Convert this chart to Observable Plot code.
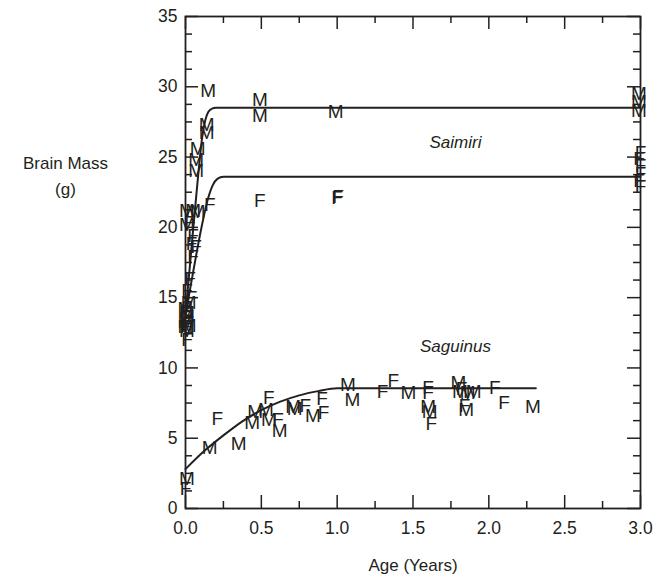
<!DOCTYPE html>
<html><head><meta charset="utf-8">
<script src="https://cdn.jsdelivr.net/npm/d3@7"></script>
<script src="https://cdn.jsdelivr.net/npm/@observablehq/plot@0.6"></script>
<style>html,body{margin:0;padding:0;background:#fff}</style>
</head><body><div id="chart"></div>
<script>
// ---- data (age in years, brain mass in g) ----
const saimiriMales = [[0.15,29.7],[0.14,27.3],[0.14,26.7],[0.08,25.6],[0.07,24.8],[0.07,24.0],[0.01,21.2],[0.05,21.2],[0.08,21.1],[0.01,20.2],[0.02,14.6],[0.0,14.2],[0.01,13.9],[0.01,13.5],[0.0,13.3],[0.02,13.0],[0.0,12.9],[0.01,12.6],[0.49,29.1],[0.49,27.95],[0.99,28.2],[2.99,29.5],[2.99,28.9],[2.99,28.3]];
const saimiriFemales = [[0.16,21.6],[0.03,20.3],[0.05,19.4],[0.04,18.8],[0.07,18.6],[0.05,17.9],[0.03,16.3],[0.01,15.5],[0.04,15.0],[0.01,14.3],[0.0,14.0],[0.02,13.6],[0.01,13.1],[0.0,12.9],[0.01,12.0],[0.49,21.9],[1.0,22.1],[1.005,22.2],[3.0,25.3],[2.99,24.9],[3.0,24.4],[3.0,23.8],[2.99,23.3],[3.0,22.9]];
const saguinusMales = [[0.01,2.1],[0.16,4.3],[0.35,4.6],[0.44,6.1],[0.46,6.9],[0.53,7.0],[0.55,6.3],[0.62,5.5],[0.71,7.2],[0.72,7.1],[0.84,6.6],[1.07,8.8],[1.10,7.75],[1.47,8.2],[1.60,7.2],[1.61,6.9],[1.80,8.9],[1.81,8.3],[1.86,8.2],[1.90,8.3],[1.85,7.0],[2.29,7.2]];
const saguinusFemales = [[0.0,1.4],[0.21,6.4],[0.55,7.9],[0.61,6.3],[0.79,7.3],[0.90,7.8],[0.91,6.8],[1.30,8.3],[1.37,9.1],[1.60,8.6],[1.60,8.2],[1.62,6.0],[1.82,8.5],[1.84,7.3],[2.04,8.6],[2.10,7.5]];

const saimiriMaleFit = [[0,13.8],[0.04,18.6],[0.08,23.3],[0.11,26.4],[0.13,27.6],[0.15,28.2],[0.175,28.45],[0.2,28.5],[3.0,28.5]];
const saimiriFemaleFit = [[0,13.8],[0.05,16.8],[0.1,19.7],[0.15,22.1],[0.18,23.0],[0.21,23.45],[0.25,23.6],[3.0,23.6]];
const saguinusFit = [[0,2.8],[0.125,4.1],[0.25,5.2],[0.375,6.2],[0.5,7.0],[0.625,7.6],[0.75,8.05],[0.875,8.35],[1.0,8.55],[2.31,8.55]];

const genusLabels = [{name:"Saimiri", age:1.78, mass:26.0},{name:"Saguinus", age:1.78, mass:11.5}];

const xTickLabels = [0, 0.5, 1.0, 1.5, 2.0, 2.5, 3.0];
const yTickLabels = [0, 5, 10, 15, 20, 25, 30, 35];
const xMinorTicks = [0.25, 0.75, 1.25, 1.75, 2.25, 2.75];
const yMinorTicks = d3.range(0, 35, 1.25).filter(v => v % 5 !== 0);

// ---- layout ----
const W = 654, H = 582, mL = 185, mR = 14, mT = 16, mB = 74;
const plotW = W - mL - mR, plotH = H - mT - mB;
const ink = "#231f20";
const font = "'Liberation Sans', Arial, Helvetica, sans-serif";
const majorLen = 13, minorLen = 7;

const rows = (arr, sex) => arr.map(([age, mass]) => ({age, mass, sex}));
const letters = [
  ...rows(saimiriMales, "M"), ...rows(saimiriFemales, "F"),
  ...rows(saguinusMales, "M"), ...rows(saguinusFemales, "F")
];
const lineOpts = {x: d => d[0], y: d => d[1], curve: "monotone-x", stroke: ink, strokeWidth: 2};
const tickStyle = {stroke: ink, strokeWidth: 1.5};

const chart = Plot.plot({
  width: W, height: H,
  marginLeft: mL, marginRight: mR, marginTop: mT, marginBottom: mB,
  style: {fontFamily: font, fontSize: "17px", color: ink, background: "white", overflow: "visible"},
  x: {domain: [0, 3], label: null},
  y: {domain: [0, 35], label: null},
  marks: [
    // inward ticks on all four sides
    Plot.tickY(yTickLabels, {y: d => d, insetRight: plotW - majorLen, ...tickStyle}),
    Plot.tickY(yTickLabels, {y: d => d, insetLeft: plotW - majorLen, ...tickStyle}),
    Plot.tickY(yMinorTicks, {y: d => d, insetRight: plotW - minorLen, ...tickStyle}),
    Plot.tickY(yMinorTicks, {y: d => d, insetLeft: plotW - minorLen, ...tickStyle}),
    Plot.tickX(xTickLabels, {x: d => d, insetTop: plotH - majorLen, ...tickStyle}),
    Plot.tickX(xTickLabels, {x: d => d, insetBottom: plotH - majorLen, ...tickStyle}),
    Plot.tickX(xMinorTicks, {x: d => d, insetTop: plotH - minorLen, ...tickStyle}),
    Plot.tickX(xMinorTicks, {x: d => d, insetBottom: plotH - minorLen, ...tickStyle}),
    Plot.frame({stroke: ink, strokeWidth: 1.8}),
    Plot.axisY(yTickLabels, {anchor: "left", tickSize: 0, tickPadding: 8, fontSize: 17.5, fill: ink, tickFormat: d => String(d)}),
    Plot.axisX(xTickLabels, {anchor: "bottom", tickSize: 0, tickPadding: 13, fontSize: 17.5, fill: ink, tickFormat: d => d.toFixed(1)}),
    // fitted growth curves
    Plot.line(saimiriMaleFit, lineOpts),
    Plot.line(saimiriFemaleFit, lineOpts),
    Plot.line(saguinusFit, lineOpts),
    // individual specimens
    Plot.text(letters, {x: "age", y: "mass", text: "sex", fontSize: 19, fill: ink}),
    // genus labels
    Plot.text(genusLabels, {x: "age", y: "mass", text: "name", fontSize: 17, fontStyle: "italic", fill: ink}),
    // axis titles
    Plot.text(["Brain Mass\n(g)"], {frameAnchor: "left", dx: -120, dy: -89, lineHeight: 1.55, textAnchor: "middle", lineAnchor: "middle", fontSize: 17, fill: ink}),
    Plot.text(["Age (Years)"], {frameAnchor: "bottom", dy: 57, lineAnchor: "middle", fontSize: 17, fill: ink})
  ]
});
document.getElementById("chart").appendChild(chart);
</script>
</body></html>
